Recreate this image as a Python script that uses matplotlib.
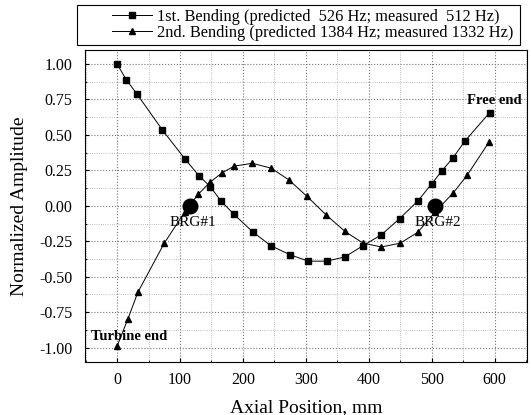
import matplotlib
matplotlib.use('Agg')
import matplotlib.pyplot as plt
from matplotlib.ticker import MultipleLocator
from matplotlib.patches import Rectangle

# 1st bending mode (squares)
x_first = [0, 15, 32, 72, 108, 130, 148, 165, 186, 216, 244, 275, 304, 333,
           362, 391, 420, 449, 478, 500, 516, 534, 553, 592]
y_first = [1.00, 0.887, 0.786, 0.535, 0.33, 0.213, 0.136, 0.035, -0.061, -0.185,
           -0.28, -0.345, -0.39, -0.39, -0.36, -0.28, -0.204, -0.09, 0.035,
           0.155, 0.246, 0.34, 0.458, 0.657]

# 2nd bending mode (triangles)
x_second = [0, 17, 33, 75, 108, 129, 148, 166, 186, 215, 245, 273, 302, 332,
            362, 391, 420, 450, 478, 506, 534, 556, 591]
y_second = [-0.99, -0.80, -0.61, -0.263, -0.04, 0.082, 0.167, 0.23, 0.28, 0.30,
            0.265, 0.183, 0.066, -0.063, -0.18, -0.263, -0.29, -0.263, -0.186,
            -0.04, 0.09, 0.214, 0.449]

# bearing positions
x_brg = [116, 505]
y_brg = [0.0, 0.0]
brg_labels = ['BRG#1', 'BRG#2']

label_first = '1st. Bending (predicted  526 Hz; measured  512 Hz)'
label_second = '2nd. Bending (predicted 1384 Hz; measured 1332 Hz)'

plt.rcParams['font.family'] = ['Liberation Serif', 'DejaVu Serif']

fig = plt.figure(figsize=(5.31, 4.15), dpi=100)
ax = fig.add_axes([0.160, 0.128, 0.832, 0.752])

ax.plot(x_first, y_first, color='black', lw=0.7, marker='s', ms=3.8,
        label=label_first)
ax.plot(x_second, y_second, color='black', lw=0.7, marker='^', ms=5,
        label=label_second)
ax.plot(x_brg, y_brg, 'o', color='black', ms=10.5, zorder=5)

# annotations
for xb, lab in zip(x_brg, brg_labels):
    ax.text(xb + 5, -0.12, lab, ha='center', va='center', fontsize=11)
ax.text(643, 0.74, 'Free end', ha='right', va='center', fontsize=10.5,
        fontweight='bold')
ax.text(-42, -0.92, 'Turbine end', ha='left', va='center', fontsize=10.5,
        fontweight='bold')

ax.set_xlim(-51, 651)
ax.set_ylim(-1.10, 1.10)
ax.xaxis.set_major_locator(MultipleLocator(100))
ax.xaxis.set_minor_locator(MultipleLocator(50))
ax.yaxis.set_major_locator(MultipleLocator(0.25))
ax.yaxis.set_minor_locator(MultipleLocator(0.125))
ax.yaxis.set_major_formatter(plt.FormatStrFormatter('%.2f'))
ax.tick_params(which='both', direction='in', labelsize=11.5)
ax.tick_params(which='major', length=3)
ax.tick_params(which='minor', length=1.5)
ax.tick_params(axis='y', pad=9)
ax.tick_params(axis='x', pad=7)

ax.grid(which='major', color='#777777', ls=':', lw=0.8)
ax.grid(which='minor', color='#aaaaaa', ls=':', lw=0.6)
ax.set_axisbelow(True)

ax.set_xlabel('Axial Position, mm', fontsize=14, labelpad=8)
ax.set_ylabel('Normalized Amplitude', fontsize=14, labelpad=8)

# legend: frameless entries plus a wider box drawn by hand
fig.legend(loc='center left', bbox_to_anchor=(0.196, 0.940), fontsize=11.8,
           frameon=False, handlelength=2.4, borderpad=0.0,
           labelspacing=0.0, handletextpad=0.3)
fig.patches.append(Rectangle((0.145, 0.892), 0.834, 0.096,
                             transform=fig.transFigure, fill=False,
                             edgecolor='black', lw=0.8))

fig.savefig('out.png', dpi=100)
